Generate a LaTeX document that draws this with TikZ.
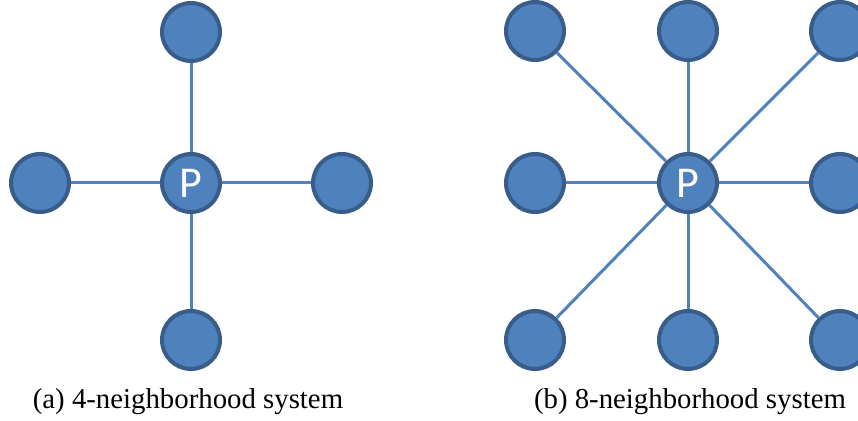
\documentclass[tikz,border=0pt]{standalone}
\usepackage{fontspec}
\setmainfont{Liberation Serif}
\newfontfamily\pfont{Carlito}
\usepackage{xcolor}
\usepackage{tikz}

\definecolor{nbfill}{HTML}{4F81BD}
\definecolor{nbline}{HTML}{385D8A}

\begin{document}
\begin{tikzpicture}[x=0.5pt, y=-0.5pt,
  px/.style={circle, draw=nbline, line width=2pt, fill=nbfill,
             minimum size=29pt, inner sep=0pt},
  ctr/.style={px, text=white, font=\pfont\fontsize{22}{22}\selectfont},
  lnk/.style={draw=nbfill, line width=1.5pt},
  captxt/.style={anchor=base, font=\fontsize{14.4}{16}\selectfont}]
\useasboundingbox (0,0) rectangle (858,421);

% (a) four neighbours
\node[ctr] (Pa) at (191,183) {P};
\node[px] (an) at (191,32) {};
\node[px] (as) at (191,340) {};
\node[px] (aw) at (40,183) {};
\node[px] (ae) at (342,183) {};
\foreach \n in {an,as,aw,ae}
  \draw[lnk] (Pa)--(\n);
\node[captxt] (capa) at (188,409) {(a) 4-neighborhood system};

% (b) eight neighbours
\node[ctr] (Pb) at (688,183) {P};
\node[px] (bnw) at (535,31) {};
\node[px] (bn) at (688,31) {};
\node[px] (bne) at (840,31) {};
\node[px] (bw) at (535,183) {};
\node[px] (be) at (840,183) {};
\node[px] (bsw) at (535,340) {};
\node[px] (bs) at (688,340) {};
\node[px] (bse) at (840,340) {};
\foreach \n in {bnw,bn,bne,bw,be,bsw,bs,bse}
  \draw[lnk] (Pb)--(\n);
\node[captxt] (capb) at (690,409) {(b) 8-neighborhood system};
\end{tikzpicture}
\end{document}
